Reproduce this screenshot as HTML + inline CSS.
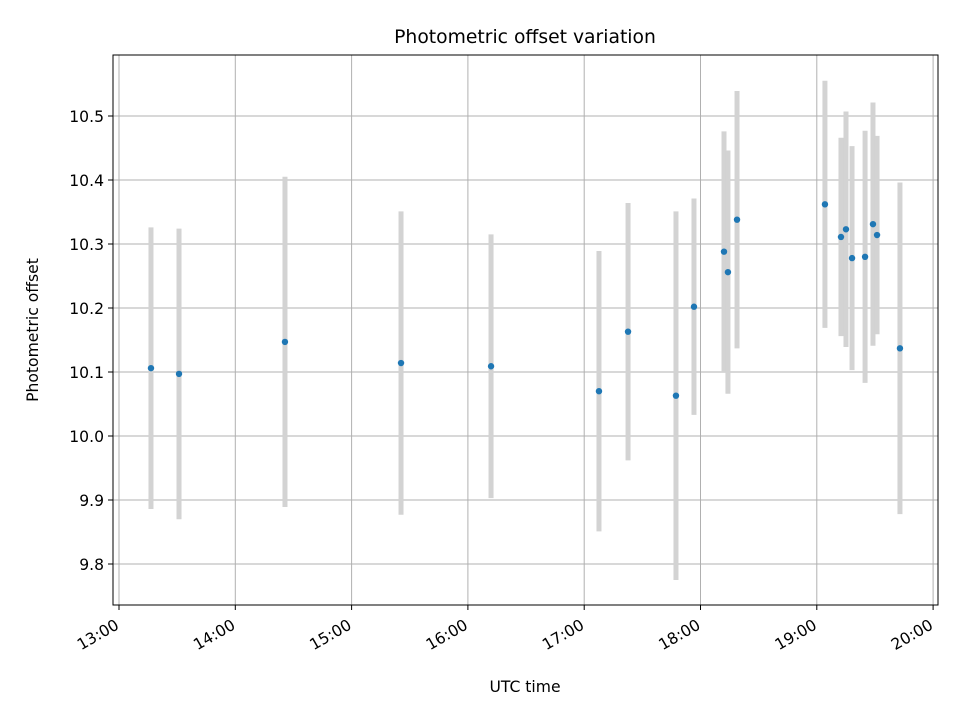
<!DOCTYPE html>
<html><head><meta charset="utf-8"><style>
body{margin:0;background:#fff}
svg text{font-family:"DejaVu Sans","Liberation Sans",sans-serif;fill:#000}
</style></head><body>
<svg id="chart" width="960" height="720" xmlns="http://www.w3.org/2000/svg">
<rect width="960" height="720" fill="#fff"/>
<g id="grid"></g>
<g id="bars"></g>
<g id="pts"></g>
<rect x="113" y="55" width="825" height="550" fill="none" stroke="#000" stroke-width="1"/>
<g id="axes"></g>
<text x="525" y="43" font-size="18.75" text-anchor="middle">Photometric offset variation</text>
<text x="525" y="692" font-size="15.6" text-anchor="middle">UTC time</text>
<text transform="translate(38,330) rotate(-90)" font-size="15.6" text-anchor="middle">Photometric offset</text>
</svg>
<script>
const times=[13.275,13.516,14.427,15.425,16.199,17.127,17.377,17.789,17.944,18.202,18.236,18.314,19.070,19.208,19.251,19.303,19.415,19.483,19.518,19.715];
const values=[10.106,10.097,10.147,10.114,10.109,10.070,10.163,10.063,10.202,10.288,10.256,10.338,10.362,10.311,10.323,10.278,10.280,10.331,10.314,10.137];
const errors=[0.220,0.227,0.258,0.237,0.206,0.219,0.201,0.288,0.169,0.188,0.190,0.201,0.193,0.155,0.184,0.175,0.197,0.190,0.155,0.259];
const xTicks=[13,14,15,16,17,18,19,20];
const xTickLabels=["13:00","14:00","15:00","16:00","17:00","18:00","19:00","20:00"];
const yTicks=[9.8,9.9,10.0,10.1,10.2,10.3,10.4,10.5];
const yTickLabels=["9.8","9.9","10.0","10.1","10.2","10.3","10.4","10.5"];
const X=t=>119+(t-13)*116.3;
const Y=v=>116+(10.5-v)*640;
const NS="http://www.w3.org/2000/svg";
function mk(tag,attrs,parent){const e=document.createElementNS(NS,tag);for(const k in attrs)e.setAttribute(k,attrs[k]);parent.appendChild(e);return e;}
const grid=document.getElementById('grid'),axes=document.getElementById('axes'),bars=document.getElementById('bars'),pts=document.getElementById('pts');
xTicks.forEach((t,i)=>{const x=X(t);
 const g=mk('line',{x1:x,x2:x,y1:55,y2:605,stroke:'#b0b0b0','stroke-width':1},grid);
 
 const tk=mk('line',{x1:x,x2:x,y1:605,y2:610,stroke:'#000'},axes);
 
 const tx=mk('text',{transform:`translate(${x+1},${628}) rotate(-30)`,'font-size':15.6,'text-anchor':'end'},axes);
 tx.textContent=xTickLabels[i];
 
});
yTicks.forEach((v,i)=>{const y=Y(v);
 const g=mk('line',{x1:113,x2:938,y1:y,y2:y,stroke:'#b0b0b0','stroke-width':1},grid);
 
 const tk=mk('line',{x1:108,x2:113,y1:y,y2:y,stroke:'#000'},axes);
 
 const tx=mk('text',{x:104,y:y+6,'font-size':15.6,'text-anchor':'end'},axes);
 tx.textContent=yTickLabels[i];
 
});
times.forEach((t,i)=>{const x=X(t);
 const b=mk('line',{x1:x,x2:x,y1:Y(values[i]+errors[i]),y2:Y(values[i]-errors[i]),stroke:'#d3d3d3','stroke-width':5},bars);
 
 const c=mk('circle',{cx:x,cy:Y(values[i]),r:3.2,fill:'#1f77b4'},pts);
 
});
</script>
</body></html>
